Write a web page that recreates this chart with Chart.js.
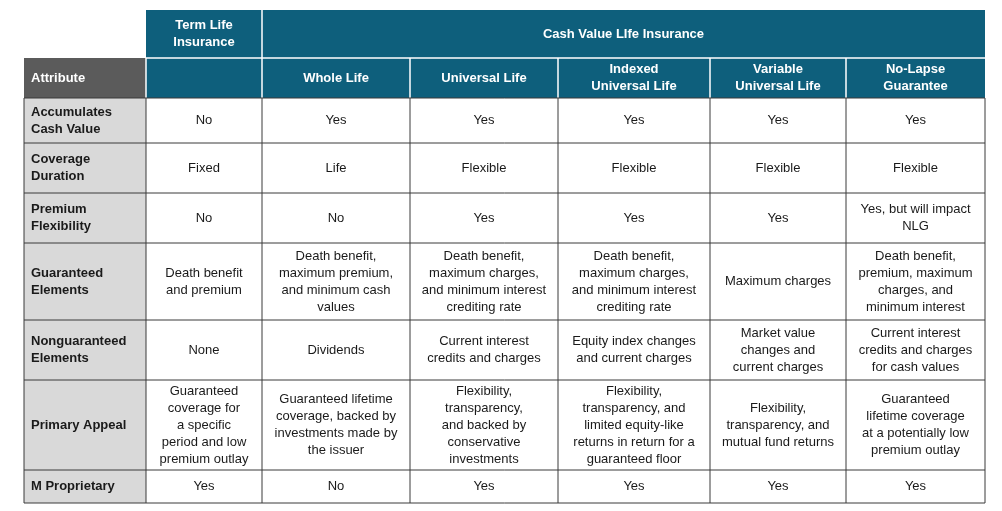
<!DOCTYPE html>
<html>
<head>
<meta charset="utf-8">
<script src="https://cdn.jsdelivr.net/npm/chart.js@4"></script>
<style>
  html, body { margin: 0; padding: 0; background: #fff; }
  #wrap { width: 1002px; height: 511px; }
</style>
</head>
<body>
<div id="wrap"><canvas id="table"></canvas></div>
<script>
// Table content
const groupHeaders = ['Term Life\nInsurance', 'Cash Value LIfe Insurance'];
const columnHeaders = ['Attribute', '', 'Whole Life', 'Universal Life', 'Indexed\nUniversal Life', 'Variable\nUniversal Life', 'No-Lapse\nGuarantee'];
const rowLabels = [
    'Accumulates\nCash Value', 'Coverage\nDuration', 'Premium\nFlexibility', 'Guaranteed\nElements',
    'Nonguaranteed\nElements', 'Primary Appeal', 'M Proprietary'
];
const termLife = ['No', 'Fixed', 'No', 'Death benefit\nand premium', 'None',
    'Guaranteed\ncoverage for\na specific\nperiod and low\npremium outlay', 'Yes'];
const wholeLife = ['Yes', 'Life', 'No', 'Death benefit,\nmaximum premium,\nand minimum cash\nvalues', 'Dividends',
    'Guaranteed lifetime\ncoverage, backed by\ninvestments made by\nthe issuer', 'No'];
const universalLife = ['Yes', 'Flexible', 'Yes', 'Death benefit,\nmaximum charges,\nand minimum interest\ncrediting rate',
    'Current interest\ncredits and charges', 'Flexibility,\ntransparency,\nand backed by\nconservative\ninvestments', 'Yes'];
const indexedUL = ['Yes', 'Flexible', 'Yes', 'Death benefit,\nmaximum charges,\nand minimum interest\ncrediting rate',
    'Equity index changes\nand current charges', 'Flexibility,\ntransparency, and\nlimited equity-like\nreturns in return for a\nguaranteed floor', 'Yes'];
const variableUL = ['Yes', 'Flexible', 'Yes', 'Maximum charges', 'Market value\nchanges and\ncurrent charges',
    'Flexibility,\ntransparency, and\nmutual fund returns', 'Yes'];
const noLapse = ['Yes', 'Flexible', 'Yes, but will impact\nNLG', 'Death benefit,\npremium, maximum\ncharges, and\nminimum interest',
    'Current interest\ncredits and charges\nfor cash values', 'Guaranteed\nlifetime coverage\nat a potentially low\npremium outlay', 'Yes'];
const bodyColumns = [termLife, wholeLife, universalLife, indexedUL, variableUL, noLapse];

// Layout (in scale units)
const colEdges = [24, 146, 262, 410, 558, 710, 846, 985];
const rowEdges = [10, 58, 98, 143, 193, 243, 320, 380, 470, 503];

const TEAL = '#0e5f7c';
const FONT = '"Liberation Sans", Arial, sans-serif';

function drawText(ctx, text, x, y, align, font, color) {
    const lines = text.split('\n');
    const lh = 17;
    ctx.font = font;
    ctx.fillStyle = color;
    ctx.textAlign = align;
    ctx.textBaseline = 'middle';
    const top = y - (lines.length - 1) * lh / 2;
    lines.forEach((l, i) => ctx.fillText(l, x, top + i * lh));
}

const tablePlugin = {
    id: 'tablePlugin',
    afterDraw(chart) {
        const ctx = chart.ctx;
        const xs = chart.scales.x, ys = chart.scales.y;
        const px = v => xs.getPixelForValue(v);
        const py = v => ys.getPixelForValue(v);
        const cell = (c0, c1, r0, r1) => ({ x: px(colEdges[c0]), y: py(rowEdges[r0]), w: px(colEdges[c1]) - px(colEdges[c0]), h: py(rowEdges[r1]) - py(rowEdges[r0]) });
        ctx.save();

        // header band
        const band = cell(1, 7, 0, 2);
        ctx.fillStyle = TEAL;
        ctx.fillRect(band.x, band.y, band.w, band.h);
        const attr = cell(0, 1, 1, 2);
        ctx.fillStyle = '#5b5b5b';
        ctx.fillRect(attr.x, attr.y, attr.w, attr.h);

        // header separators (white)
        ctx.strokeStyle = '#ffffff';
        ctx.lineWidth = 1.5;
        ctx.beginPath();
        ctx.moveTo(px(colEdges[2]), py(rowEdges[0])); ctx.lineTo(px(colEdges[2]), py(rowEdges[2]));
        ctx.moveTo(px(colEdges[1]), py(rowEdges[1])); ctx.lineTo(px(colEdges[7]), py(rowEdges[1]));
        for (let c = 3; c < 7; c++) { ctx.moveTo(px(colEdges[c]), py(rowEdges[1])); ctx.lineTo(px(colEdges[c]), py(rowEdges[2])); }
        ctx.moveTo(px(colEdges[1]), py(rowEdges[1])); ctx.lineTo(px(colEdges[1]), py(rowEdges[2]));
        ctx.stroke();

        const hFont = 'bold 13px ' + FONT;
        let g = cell(1, 2, 0, 1);
        drawText(ctx, groupHeaders[0], g.x + g.w / 2, g.y + g.h / 2, 'center', hFont, '#fff');
        g = cell(2, 7, 0, 1);
        drawText(ctx, groupHeaders[1], g.x + g.w / 2, g.y + g.h / 2, 'center', hFont, '#fff');
        columnHeaders.forEach((t, c) => {
            const k = cell(c, c + 1, 1, 2);
            if (c === 0) drawText(ctx, t, k.x + 7, k.y + k.h / 2, 'left', hFont, '#fff');
            else drawText(ctx, t, k.x + k.w / 2, k.y + k.h / 2, 'center', hFont, '#fff');
        });

        // body
        rowLabels.forEach((lab, r) => {
            const k = cell(0, 1, r + 2, r + 3);
            ctx.fillStyle = '#d9d9d9';
            ctx.fillRect(k.x, k.y, k.w, k.h);
            drawText(ctx, lab, k.x + 7, k.y + k.h / 2, 'left', 'bold 13px ' + FONT, '#1a1a1a');
            bodyColumns.forEach((col, c) => {
                const b = cell(c + 1, c + 2, r + 2, r + 3);
                drawText(ctx, col[r], b.x + b.w / 2, b.y + b.h / 2, 'center', '13px ' + FONT, '#1a1a1a');
            });
        });

        // body grid
        ctx.strokeStyle = '#3a3a3a';
        ctx.lineWidth = 1;
        ctx.beginPath();
        for (let r = 2; r < rowEdges.length; r++) {
            ctx.moveTo(px(colEdges[0]), py(rowEdges[r])); ctx.lineTo(px(colEdges[7]), py(rowEdges[r]));
        }
        for (let c = 0; c < colEdges.length; c++) {
            ctx.moveTo(px(colEdges[c]), py(rowEdges[2])); ctx.lineTo(px(colEdges[c]), py(rowEdges[9]));
        }
        ctx.stroke();
        ctx.restore();
    }
};

new Chart(document.getElementById('table'), {
    type: 'scatter',
    data: { datasets: [] },
    options: {
        responsive: true,
        maintainAspectRatio: false,
        animation: false,
        layout: { padding: 0 },
        plugins: { legend: { display: false }, tooltip: { enabled: false } },
        scales: {
            x: { type: 'linear', min: 0, max: 1002, display: false },
            y: { type: 'linear', min: 0, max: 511, reverse: true, display: false }
        }
    },
    plugins: [tablePlugin]
});
</script>
</body>
</html>
